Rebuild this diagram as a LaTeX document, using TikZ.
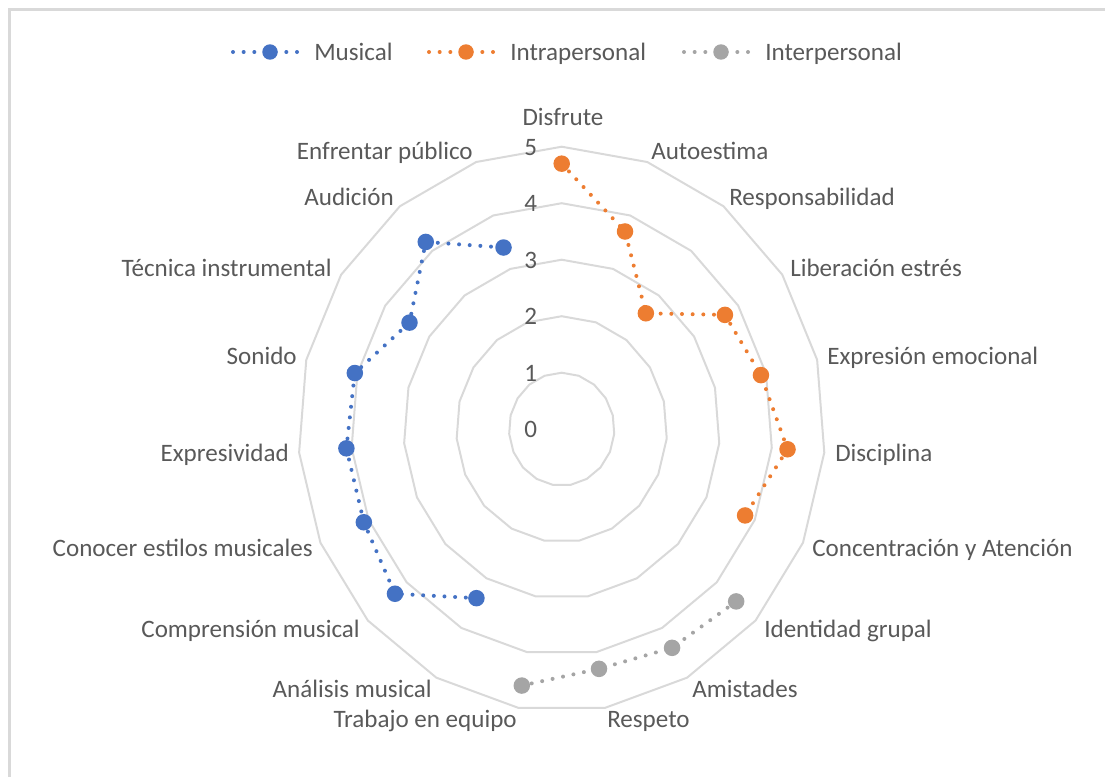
\documentclass[tikz,border=0pt]{standalone}
\usepackage{fontspec}
\setmainfont{Carlito}
\usetikzlibrary{positioning}
\definecolor{txtgray}{HTML}{595959}
\definecolor{gridgray}{HTML}{D9D9D9}
\definecolor{musblue}{HTML}{4472C4}
\definecolor{intraorange}{HTML}{ED7D31}
\definecolor{intergray}{HTML}{A5A5A5}

\begin{document}
\begin{tikzpicture}[
	x=0.75pt, y=-0.75pt,
	font=\fontsize{18.8}{22}\selectfont,
	lbl/.style = {text=txtgray, inner sep=0pt, text height=15pt, text depth=2pt},
	ring/.style = {draw=gridgray, line width=1.5pt, line join=round},
	serie/.style = {line width=3pt, line cap=round, dash pattern=on 0pt off 8pt},
	frame/.style = {draw=gridgray, line width=2pt}
	]
	\useasboundingbox (0,0) rectangle (1105,776);
	\begin{scope}
		\clip (0,0) rectangle (1105,776);
		\draw[frame] (9.5,9.5) rectangle (1130,800);
	\end{scope}
%
	\coordinate (ctr) at (561.7,429.2);
	\begin{scope}[shift={(ctr)}, x=39.525pt, y=-42.375pt]
		\foreach \v in {1,...,5}
			\draw[ring] (-90:\v) \foreach \k in {1,...,18} { -- ({\k*360/19-90}:\v) } -- cycle;
		\foreach \v in {0,...,5}
			\node[lbl, anchor=east] (val\v) at (-0.46,-\v) {\v};
%
		\foreach \r [count=\k from 0] in {4.7,3.7,2.6,3.7,3.9,4.3,3.8}
			\coordinate (in\k) at ({\k*360/19-90}:\r);
		\foreach \r [count=\k from 7] in {4.5,4.4,4.3,4.6}
			\coordinate (ip\k) at ({\k*360/19-90}:\r);
		\foreach \r [count=\k from 11] in {3.4,4.3,4.1,4.1,4.05,3.45,4.2,3.4}
			\coordinate (mu\k) at ({\k*360/19-90}:\r);
	\end{scope}
%
	\draw[serie, intraorange] (in0) -- (in1) -- (in2) -- (in3) -- (in4) -- (in5) -- (in6);
	\draw[serie, intergray] (ip7) -- (ip8) -- (ip9) -- (ip10);
	\draw[serie, musblue] (mu11) -- (mu12) -- (mu13) -- (mu14) -- (mu15) -- (mu16) -- (mu17) -- (mu18);
	\foreach \k in {0,...,6} \fill[intraorange] (in\k) circle (6.2pt);
	\foreach \k in {7,...,10} \fill[intergray] (ip\k) circle (6.2pt);
	\foreach \k in {11,...,18} \fill[musblue] (mu\k) circle (6.2pt);
%
	\node[lbl] (disfrute) at (563,117) {Disfrute};
	\node[lbl, anchor=west] (autoestima) at (651,151) {Autoestima};
	\node[lbl, anchor=west] (respons) at (729,197) {Responsabilidad};
	\node[lbl, anchor=west] (liberacion) at (790,268) {Liberación estrés};
	\node[lbl, anchor=west] (expresion) at (827,356) {Expresión emocional};
	\node[lbl, anchor=west] (disciplina) at (835,453) {Disciplina};
	\node[lbl, anchor=west] (concentr) at (812,548) {Concentración y Atención};
	\node[lbl, anchor=west] (identidad) at (764,629) {Identidad grupal};
	\node[lbl, anchor=west] (amistades) at (692,689) {Amistades};
	\node[lbl, anchor=west] (respeto) at (607,719) {Respeto};
	\node[lbl, anchor=east] (trabajo) at (517,719) {Trabajo en equipo};
	\node[lbl, anchor=east] (analisis) at (432,689) {Análisis musical};
	\node[lbl, anchor=east] (comprension) at (360,629) {Comprensión musical};
	\node[lbl, anchor=east] (estilos) at (313,548) {Conocer estilos musicales};
	\node[lbl, anchor=east] (expresividad) at (289,453) {Expresividad};
	\node[lbl, anchor=east] (sonido) at (297,356) {Sonido};
	\node[lbl, anchor=east] (tecnica) at (332,268) {Técnica instrumental};
	\node[lbl, anchor=east] (audicion) at (394,197) {Audición};
	\node[lbl, anchor=east] (publico) at (473,151) {Enfrentar público};
%
	% legend
	\coordinate (musA) at (233,52);  \coordinate (musM) at (270,52);  \coordinate (musB) at (300,52);
	\coordinate (intA) at (429,52);  \coordinate (intM) at (466,52);  \coordinate (intB) at (496,52);
	\coordinate (itpA) at (684,52);  \coordinate (itpM) at (721,52);  \coordinate (itpB) at (751,52);
	\draw[serie, musblue] (musA) -- (musB);
	\draw[serie, intraorange] (intA) -- (intB);
	\draw[serie, intergray] (itpA) -- (itpB);
	\fill[musblue] (musM) circle (5.8pt);
	\fill[intraorange] (intM) circle (5.8pt);
	\fill[intergray] (itpM) circle (5.8pt);
	\node[lbl, right=10.5pt of musB] (legmus) {Musical};
	\node[lbl, right=10.5pt of intB] (legint) {Intrapersonal};
	\node[lbl, right=10.5pt of itpB] (legitp) {Interpersonal};
\end{tikzpicture}
\end{document}
